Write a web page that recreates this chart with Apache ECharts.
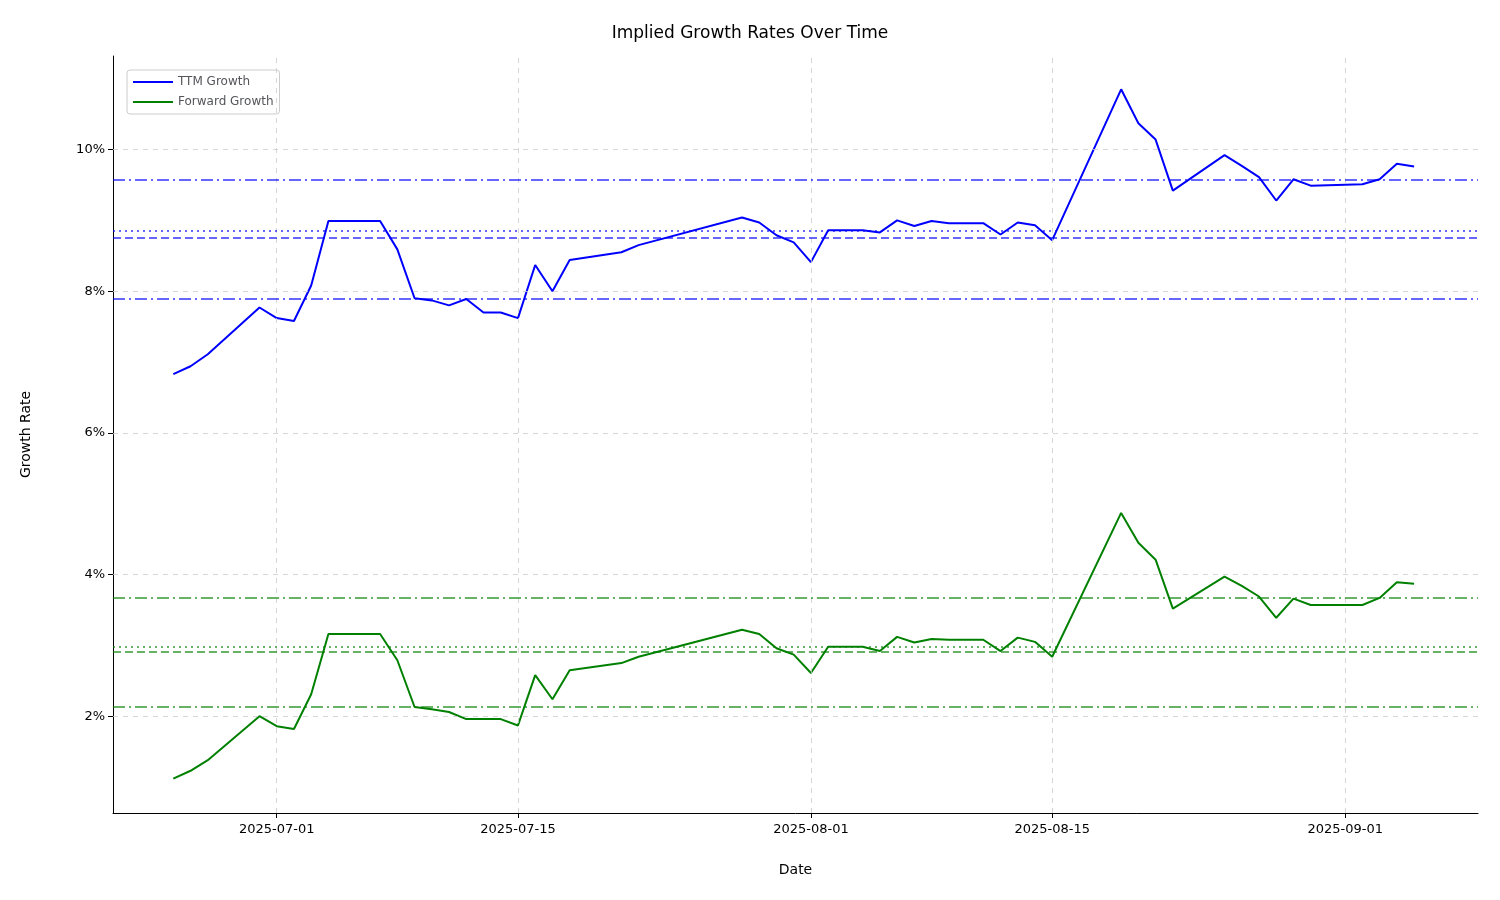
<!DOCTYPE html><html><head><meta charset="utf-8"><script src="https://cdn.jsdelivr.net/npm/echarts@6/dist/echarts.min.js"></script></head><body style="margin:0"><div id="c" style="width:1500px;height:900px"></div><script>
const dates=['2025-06-25','2025-06-26','2025-06-27','2025-06-30','2025-07-01','2025-07-02','2025-07-03','2025-07-04','2025-07-07','2025-07-08','2025-07-09','2025-07-10','2025-07-11','2025-07-12','2025-07-13','2025-07-14','2025-07-15','2025-07-16','2025-07-17','2025-07-18','2025-07-21','2025-07-22','2025-07-28','2025-07-29','2025-07-30','2025-07-31','2025-08-01','2025-08-02','2025-08-04','2025-08-05','2025-08-06','2025-08-07','2025-08-08','2025-08-09','2025-08-11','2025-08-12','2025-08-13','2025-08-14','2025-08-15','2025-08-19','2025-08-20','2025-08-21','2025-08-22','2025-08-25','2025-08-26','2025-08-27','2025-08-28','2025-08-29','2025-08-30','2025-09-02','2025-09-03','2025-09-04','2025-09-05'];
const ttm=[6.83,6.94,7.11,7.77,7.62,7.58,8.08,8.99,8.99,8.59,7.90,7.87,7.80,7.89,7.70,7.70,7.62,8.37,8.00,8.44,8.55,8.65,9.04,8.97,8.79,8.69,8.41,8.86,8.86,8.83,9.00,8.92,8.99,8.96,8.96,8.80,8.97,8.93,8.72,10.85,10.37,10.14,9.42,9.92,9.77,9.61,9.28,9.58,9.49,9.51,9.58,9.80,9.76];
const fwd=[1.12,1.23,1.38,2.00,1.86,1.82,2.31,3.16,3.16,2.79,2.13,2.10,2.06,1.96,1.96,1.96,1.87,2.58,2.24,2.65,2.75,2.84,3.22,3.16,2.96,2.87,2.61,2.98,2.98,2.92,3.12,3.04,3.09,3.08,3.08,2.92,3.11,3.05,2.84,4.87,4.45,4.21,3.52,3.97,3.84,3.69,3.39,3.66,3.57,3.57,3.67,3.89,3.87];
const ttmRefs=[[9.58,'dashDot'],[8.86,'dotted'],[8.75,'dashed'],[7.90,'dashDot']];
const fwdRefs=[[3.67,'dashDot'],[2.98,'dotted'],[2.91,'dashed'],[2.13,'dashDot']];
const yTicks=[2,4,6,8,10];
const xTicks=['2025-07-01','2025-07-15','2025-08-01','2025-08-15','2025-09-01'];
const ts=s=>new Date(s+'T00:00:00Z').getTime();
const styleOf=t=>t==='dashDot'?[12,4,2,4]:t==='dotted'?[2,4]:[8,4];
const ref=(r,col)=>({yAxis:r[0],lineStyle:{color:col,opacity:0.6,width:2,type:styleOf(r[1])}});
const grid=[...yTicks.map(v=>({yAxis:v})),...xTicks.map(d=>({xAxis:ts(d)}))];
const font='DejaVu Sans';
echarts.init(document.getElementById('c')).setOption({
animation:false,textStyle:{fontFamily:font},
title:{text:'Implied Growth Rates Over Time',left:'center',top:20,textStyle:{fontSize:17,fontWeight:'normal',color:'#000',fontFamily:font}},
legend:{left:127,top:70,orient:'vertical',itemGap:8,itemWidth:40,itemHeight:2,borderColor:'#ccc',borderWidth:1,borderRadius:3,padding:[6,6,6,6],textStyle:{fontSize:12,fontFamily:font},icon:'rect',data:['TTM Growth','Forward Growth']},
grid:{left:113,right:22,top:56,bottom:87},
xAxis:{type:'value',min:ts('2025-06-21')+12*3600e3,max:ts('2025-09-08')+17*3600e3,name:'Date',nameLocation:'middle',nameGap:50,nameTextStyle:{fontSize:14,color:'#000'},
 axisLine:{lineStyle:{color:'#000'}},splitLine:{show:false},
 axisTick:{customValues:xTicks.map(ts),length:5,lineStyle:{color:'#000'}},
 axisLabel:{customValues:xTicks.map(ts),color:'#000',fontSize:13,margin:10,formatter:v=>new Date(v).toISOString().slice(0,10)}},
yAxis:{type:'value',min:0.634,max:11.32,name:'Growth Rate',nameLocation:'middle',nameGap:80,nameTextStyle:{fontSize:14,color:'#000'},
 axisLine:{show:true,lineStyle:{color:'#000'}},splitLine:{show:false},
 axisTick:{show:true,customValues:yTicks,length:5,lineStyle:{color:'#000'}},
 axisLabel:{customValues:yTicks,color:'#000',fontSize:13,formatter:v=>Math.round(v)+'%'}},
series:[
{name:'TTM Growth',type:'line',data:dates.map((d,i)=>[ts(d),ttm[i]]),showSymbol:false,color:'#0000ff',lineStyle:{width:2},
 markLine:{symbol:'none',silent:true,label:{show:false},data:[...grid.map(g=>({...g,lineStyle:{color:'#ccc',type:[5,5],width:1,opacity:0.8}})),...ttmRefs.map(r=>ref(r,'#0000ff'))]}},
{name:'Forward Growth',type:'line',data:dates.map((d,i)=>[ts(d),fwd[i]]),showSymbol:false,color:'#008000',lineStyle:{width:2},
 markLine:{symbol:'none',silent:true,label:{show:false},data:fwdRefs.map(r=>ref(r,'#008000'))}}
]});
</script></body></html>
